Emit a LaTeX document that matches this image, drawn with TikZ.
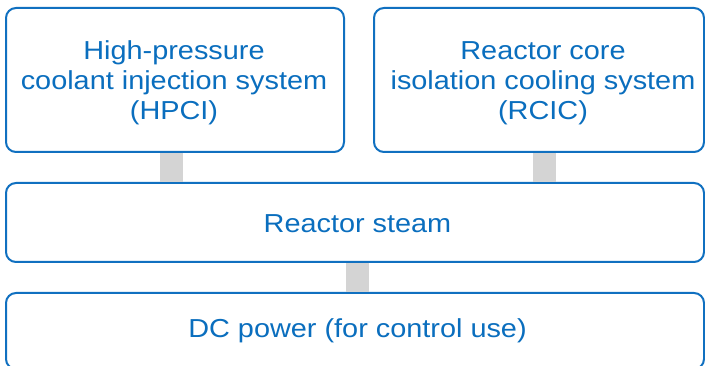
\documentclass[tikz,border=0pt]{standalone}
\usepackage{fontspec}
\setmainfont[FakeStretch=1.11]{Liberation Sans}
\definecolor{boxblue}{RGB}{16,112,192}
\definecolor{txtblue}{RGB}{10,110,190}
\definecolor{conngray}{RGB}{212,212,212}
\begin{document}
\begin{tikzpicture}[x=1pt,y=-1pt,
  box/.style={draw=boxblue, line width=2pt, rounded corners=10pt, fill=white, inner sep=0pt},
  txt/.style={text=txtblue, align=center, inner sep=0pt,
    font=\fontsize{26}{30}\selectfont},
  conn/.style={draw=conngray, line width=23pt}]
\useasboundingbox (0,0) rectangle (705,366);
\clip (0,0) rectangle (705,366);
\node[box, minimum width=338pt, minimum height=144pt] (hpci) at (175,80) {};
\node[box, minimum width=330pt, minimum height=144pt] (rcic) at (539,80) {};
\node[box, minimum width=698pt, minimum height=79pt] (steam) at (355,222.5) {};
\node[box, minimum width=698pt, minimum height=76pt] (dc) at (355,331) {};
\node[txt] (hpcitxt) at ([shift={(-1,3)}]hpci.center)
  {High-pressure\\coolant injection system\\(HPCI)};
\node[txt] (rcictxt) at ([shift={(4,3)}]rcic.center)
  {Reactor core\\isolation cooling system\\(RCIC)};
\node[txt] (steamtxt) at ([shift={(2.5,1)}]steam.center) {Reactor steam};
\node[txt] (dctxt) at ([shift={(2.5,0)}]dc.center) {DC power (for control use)};
\draw[conn] (hpci.south -| 171.5,0) -- (steam.north -| 171.5,0);
\draw[conn] (rcic.south -| 544.5,0) -- (steam.north -| 544.5,0);
\draw[conn] (steam.south -| 357.5,0) -- (dc.north -| 357.5,0);
\end{tikzpicture}
\end{document}
